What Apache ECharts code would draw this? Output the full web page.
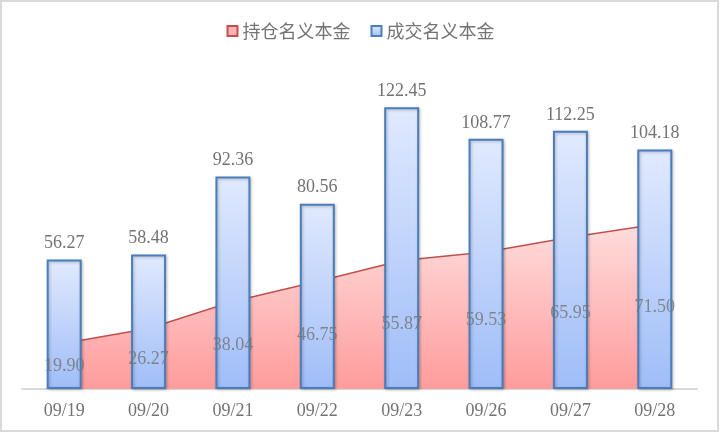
<!DOCTYPE html>
<html>
<head>
<meta charset="utf-8">
<script src="https://cdn.jsdelivr.net/npm/echarts@6/dist/echarts.min.js"></script>
<style>
  html, body { margin: 0; padding: 0; background: #fff; }
  #chart { width: 721px; height: 434px; }
</style>
</head>
<body>
<div id="chart"></div>
<script>
var dates = ['09/19', '09/20', '09/21', '09/22', '09/23', '09/26', '09/27', '09/28'];
var holdName = '持仓名义本金';
var tradeName = '成交名义本金';
var holdVals = [19.90, 26.27, 38.04, 46.75, 55.87, 59.53, 65.95, 71.50];
var tradeVals = [56.27, 58.48, 92.36, 80.56, 122.45, 108.77, 112.25, 104.18];

var serif = '"Liberation Serif", "Times New Roman", serif';
var cjk = '"Noto Sans CJK SC", sans-serif';
var grey = '#737373';

var chart = echarts.init(document.getElementById('chart'));

// 持仓标签放在面积中部
var holdMid = holdVals.map(function (v) { return v / 2; });

chart.setOption({
  animation: false,
  graphic: [{
    type: 'rect',
    shape: { x: 1, y: 1, width: 717, height: 430 },
    style: { fill: 'none', stroke: '#d9d9d9', lineWidth: 2 },
    silent: true
  }],
  legend: {
    top: 17,
    left: 'center',
    itemWidth: 10,
    itemHeight: 10,
    itemGap: 20,
    textStyle: { fontFamily: cjk, fontSize: 18, color: grey },
    data: [
      { name: holdName, icon: 'rect' },
      { name: tradeName, icon: 'rect' }
    ]
  },
  grid: { left: 22, right: 24, top: 67, bottom: 45 },
  xAxis: {
    type: 'category',
    data: dates,
    boundaryGap: true,
    axisLine: { lineStyle: { color: '#d9d9d9', width: 2 } },
    axisTick: { show: false },
    axisLabel: { fontFamily: serif, fontSize: 18, color: grey, margin: 13 }
  },
  yAxis: {
    type: 'value',
    min: 0,
    max: 140,
    show: false,
    splitLine: { show: false }
  },
  series: [
    {
      name: holdName,
      type: 'line',
      data: holdVals,
      symbol: 'none',
      z: 1,
      lineStyle: { color: '#c0504d', width: 1.5 },
      itemStyle: { color: '#ffb3b3', borderColor: '#c0504d', borderWidth: 1.5 },
      areaStyle: {
        color: new echarts.graphic.LinearGradient(0, 0, 0, 1, [
          { offset: 0, color: '#ffdcdc' },
          { offset: 1, color: '#ff9c9c' }
        ]),
        opacity: 1
      }
    },
    {
      name: tradeName,
      type: 'bar',
      data: tradeVals,
      barWidth: 35,
      z: 2,
      itemStyle: {
        color: new echarts.graphic.LinearGradient(0, 0, 0, 1, [
          { offset: 0, color: '#e1eafe' },
          { offset: 1, color: '#9fbdf8' }
        ]),
        borderColor: '#4a7ebb',
        borderWidth: 2,
        shadowColor: 'rgba(0,0,0,0.25)',
        shadowBlur: 3,
        shadowOffsetX: 1,
        shadowOffsetY: 1
      },
      label: {
        show: true,
        position: 'top',
        distance: 7,
        fontFamily: serif,
        fontSize: 18,
        color: grey,
        formatter: function (p) { return p.value.toFixed(2); }
      }
    },
    {
      name: 'holdLabels',
      type: 'scatter',
      data: holdMid,
      symbolSize: 0,
      z: 5,
      silent: true,
      label: {
        show: true,
        position: 'inside',
        fontFamily: serif,
        fontSize: 18,
        color: grey,
        formatter: function (p) { return holdVals[p.dataIndex].toFixed(2); }
      }
    }
  ]
});
</script>
</body>
</html>
